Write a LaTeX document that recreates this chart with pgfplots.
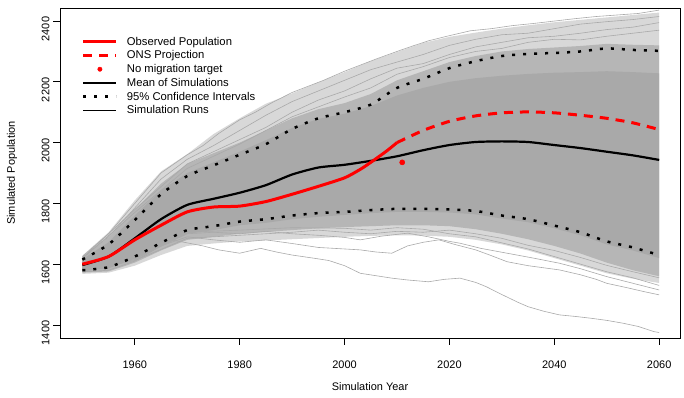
\documentclass[border=0pt]{standalone}
\usepackage{fontspec}
\setmainfont{Liberation Sans}
\usepackage{pgfplots}
\pgfplotsset{compat=1.18}
\usepackage{pgfplotstable}
\usepgfplotslibrary{fillbetween}
\definecolor{simgray}{RGB}{169,169,169}
\definecolor{rred}{RGB}{255,0,0}

\pgfplotstableread{
year llo slo dlo dhi shi ltop
1950 1568 1572 1578 1616 1622 1628
1955 1572 1576 1586 1672 1688 1705
1960 1595 1605 1620 1760 1780 1810
1965 1630 1645 1660 1842 1865 1905
1970 1660 1680 1700 1900 1930 1962
1975 1668 1690 1712 1935 1965 2028
1980 1675 1700 1728 1970 2000 2080
1985 1678 1706 1736 2008 2040 2128
1990 1682 1712 1748 2048 2080 2162
1995 1686 1718 1756 2078 2110 2198
2000 1690 1722 1762 2095 2130 2232
2005 1693 1725 1768 2120 2160 2268
2010 1695 1728 1772 2155 2205 2298
2015 1694 1728 1772 2180 2235 2328
2020 1690 1725 1770 2200 2265 2348
2025 1680 1715 1764 2212 2285 2362
2030 1665 1700 1750 2220 2300 2375
2035 1645 1682 1738 2226 2308 2386
2040 1620 1660 1718 2230 2313 2396
2045 1595 1635 1695 2232 2318 2404
2050 1570 1605 1665 2235 2325 2412
2055 1552 1580 1645 2232 2322 2420
2060 1538 1560 1620 2228 2320 2428
}\band

\pgfplotstableread{
year lci mean uci
1950 1580 1597 1615
1955 1590 1625 1665
1960 1625 1685 1745
1965 1670 1748 1830
1970 1712 1795 1890
1975 1725 1815 1925
1980 1740 1835 1960
1985 1748 1860 1995
1990 1760 1895 2045
1995 1768 1918 2080
2000 1772 1927 2100
2005 1778 1940 2125
2010 1782 1955 2180
2015 1782 1975 2210
2020 1780 1992 2245
2025 1775 2002 2268
2030 1760 2004 2285
2035 1748 2002 2292
2040 1727 1992 2295
2045 1705 1982 2300
2050 1675 1970 2310
2055 1655 1958 2305
2060 1630 1943 2302
}\stats

\pgfplotstableread{
year pop
1950 1600
1955 1625
1960 1680
1965 1728
1970 1772
1975 1788
1980 1791
1985 1806
1990 1830
1995 1856
2000 1884
2003 1912
2005 1935
2008 1972
2010 2000
}\observed

\pgfplotstableread{
year pop
2010 2000
2015 2040
2020 2070
2025 2088
2030 2098
2035 2101
2040 2098
2045 2090
2050 2080
2055 2065
2060 2043
}\ons

\begin{document}
\begin{tikzpicture}
\begin{axis}[
  at={(60bp,60bp)}, anchor=south west,
  width=620bp, height=330bp, scale only axis,
  xmin=1945.74, xmax=2063.97, ymin=1357, ymax=2443,
  xtick={1960,1980,...,2060}, ytick={1400,1600,...,2400},
  tick align=outside, xtick pos=bottom, ytick pos=left,
  major tick length=7bp,
  axis line style={line width=0.8bp},
  every tick/.style={black, line width=0.8bp},
  /pgf/number format/assume math mode=true,
  /pgf/number format/1000 sep={},
  tick label style={font=\fontsize{11}{13}\selectfont},
  xticklabel style={anchor=north, yshift=-12bp},
  yticklabel style={rotate=90, anchor=south, xshift=-8bp},
  xlabel={Simulation Year}, ylabel={Simulated Population},
  label style={font=\fontsize{11}{13}\selectfont},
  xlabel style={at={(axis description cs:0.5,-0.148)}, anchor=center},
  ylabel style={at={(axis description cs:-0.0774,0.5)}, anchor=center, rotate=0},
  legend cell align=left,
  legend style={at={(axis description cs:0.035,0.919)}, anchor=north west,
    draw=none, fill=none, font=\fontsize{11.3}{13}\selectfont,
    row sep=0.1bp, inner sep=0pt,
    /tikz/every odd column/.append style={column sep=7bp}},
  legend image code/.code={\draw[#1] (0bp,0bp) -- (33bp,0bp);},
]
% ---- envelopes of simulation runs ----
\addplot[name path=ltop, draw=none, forget plot] table[x=year,y=ltop]{\band};
\addplot[name path=llo, draw=none, forget plot] table[x=year,y=llo]{\band};
\addplot[name path=shi, draw=none, forget plot] table[x=year,y=shi]{\band};
\addplot[name path=slo, draw=none, forget plot] table[x=year,y=slo]{\band};
\addplot[name path=dhi, draw=none, forget plot] table[x=year,y=dhi]{\band};
\addplot[name path=dlo, draw=none, forget plot] table[x=year,y=dlo]{\band};
\addplot[fill=simgray!45!white, draw=none, forget plot] fill between[of=ltop and llo];
\addplot[fill=simgray!85!white, draw=none, forget plot] fill between[of=shi and slo];
\addplot[fill=simgray, draw=none, forget plot] fill between[of=dhi and dlo];
% ---- individual sparse runs ----
\addplot[simgray, line width=0.6bp, forget plot] coordinates {(1950,1625)(1955,1700)(1960,1800)(1965,1900)(1970,1960)(1973,1990)(1976,2030)(1980,2075)(1983,2100)(1986,2130)(1990,2165)(1993,2185)(1996,2205)(2000,2235)(2003,2255)(2006,2275)(2010,2300)(2013,2318)(2016,2335)(2020,2352)(2024,2368)(2028,2375)(2032,2385)(2036,2392)(2040,2400)(2044,2408)(2048,2415)(2052,2420)(2056,2425)(2060,2436)};
\addplot[simgray, line width=0.6bp, forget plot] coordinates {(1950,1622)(1955,1690)(1960,1785)(1965,1880)(1970,1945)(1975,1990)(1980,2040)(1985,2090)(1990,2135)(1995,2170)(2000,2205)(2005,2240)(2010,2265)(2015,2290)(2020,2320)(2025,2340)(2030,2355)(2035,2360)(2040,2375)(2045,2390)(2050,2398)(2055,2405)(2060,2415)};
\addplot[simgray, line width=0.6bp, forget plot] coordinates {(1950,1620)(1960,1780)(1970,1930)(1980,2010)(1985,2050)(1990,2100)(1995,2140)(2000,2170)(2005,2210)(2010,2245)(2015,2260)(2020,2290)(2025,2315)(2030,2330)(2035,2345)(2040,2350)(2045,2360)(2050,2372)(2055,2380)(2060,2395)};
\addplot[simgray, line width=0.6bp, forget plot] coordinates {(1950,1618)(1960,1770)(1970,1915)(1980,1995)(1990,2085)(2000,2150)(2005,2180)(2010,2225)(2015,2250)(2020,2280)(2025,2300)(2030,2310)(2035,2330)(2040,2340)(2045,2338)(2050,2350)(2055,2360)(2060,2370)};
\addplot[simgray, line width=0.6bp, forget plot] coordinates {(1950,1575)(1955,1580)(1960,1610)(1963,1640)(1967,1680)(1970,1670)(1973,1660)(1976,1647)(1980,1636)(1984,1652)(1987,1640)(1990,1630)(1994,1620)(1997,1612)(2000,1595)(2003,1570)(2006,1562)(2009,1554)(2012,1548)(2016,1542)(2019,1550)(2022,1554)(2025,1540)(2027,1526)(2030,1500)(2033,1475)(2035,1460)(2038,1445)(2041,1433)(2044,1428)(2047,1422)(2050,1415)(2053,1406)(2056,1395)(2059,1378)(2060,1375)};
\addplot[simgray, line width=0.6bp, forget plot] coordinates {(1950,1578)(1960,1615)(1965,1660)(1970,1690)(1975,1680)(1980,1672)(1985,1680)(1990,1668)(1995,1655)(2000,1650)(2003,1647)(2006,1640)(2009,1636)(2012,1660)(2015,1672)(2018,1680)(2021,1665)(2025,1647)(2028,1628)(2031,1608)(2035,1595)(2038,1588)(2041,1581)(2045,1565)(2048,1550)(2050,1537)(2054,1522)(2057,1510)(2060,1499)};
\addplot[simgray, line width=0.6bp, forget plot] coordinates {(1950,1580)(1960,1618)(1970,1700)(1975,1705)(1980,1700)(1985,1708)(1990,1700)(1995,1695)(2000,1688)(2003,1680)(2007,1692)(2012,1702)(2016,1690)(2020,1675)(2022,1669)(2026,1652)(2031,1636)(2036,1620)(2041,1603)(2045,1585)(2050,1559)(2055,1537)(2060,1515)};
\addplot[simgray, line width=0.6bp, forget plot] coordinates {(1950,1582)(1960,1620)(1970,1705)(1980,1712)(1990,1720)(2000,1718)(2005,1712)(2010,1720)(2015,1715)(2020,1700)(2025,1690)(2030,1670)(2035,1650)(2040,1625)(2045,1600)(2050,1575)(2055,1555)(2060,1530)};
\addplot[simgray, line width=0.6bp, forget plot] coordinates {(1950,1576)(1960,1612)(1970,1685)(1980,1695)(1990,1705)(1995,1712)(2000,1705)(2005,1700)(2010,1708)(2015,1705)(2020,1712)(2025,1700)(2030,1685)(2035,1662)(2040,1645)(2045,1622)(2050,1596)(2055,1575)(2060,1555)};
% ---- statistics ----
\addplot[black, line width=2.5bp, dash pattern=on 3bp off 8bp, smooth, tension=0.4, forget plot] table[x=year,y=uci]{\stats};
\addplot[black, line width=2.5bp, dash pattern=on 3bp off 8bp, smooth, tension=0.4, forget plot] table[x=year,y=lci]{\stats};
\addplot[black, line width=2.2bp, smooth, tension=0.4, forget plot] table[x=year,y=mean]{\stats};
\addplot[rred, line width=3bp, smooth, tension=0.4, forget plot] table[x=year,y=pop]{\observed};
\addplot[rred, line width=3bp, dash pattern=on 9bp off 7bp, smooth, tension=0.4, forget plot] table[x=year,y=pop]{\ons};
\addplot[rred, only marks, mark=*, mark size=2.6bp, forget plot] coordinates {(2011,1935)};
% ---- legend ----
\addlegendimage{rred, line width=3bp}
\addlegendentry{Observed Population}
\addlegendimage{rred, line width=3bp, dash pattern=on 9bp off 7bp}
\addlegendentry{ONS Projection}
\addlegendimage{legend image code/.code={\fill[rred] (16.5bp,0bp) circle (2.2bp);}}
\addlegendentry{No migration target}
\addlegendimage{black, line width=2.2bp}
\addlegendentry{Mean of Simulations}
\addlegendimage{black, line width=2.5bp, dash pattern=on 3bp off 8bp}
\addlegendentry{95\% Confidence Intervals}
\addlegendimage{black, line width=0.6bp}
\addlegendentry{Simulation Runs}
\end{axis}
\pgfresetboundingbox
\useasboundingbox (0,0) rectangle (684bp,398bp);
\end{tikzpicture}
\end{document}
